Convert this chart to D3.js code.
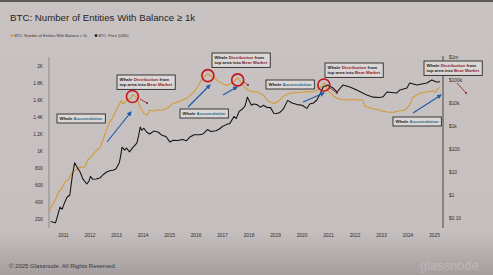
<!DOCTYPE html>
<html>
<head>
<meta charset="utf-8">
<script src="https://cdn.jsdelivr.net/npm/d3@7"></script>
<style>
  body { margin: 0; background: #c8c1c1; }
  svg { display: block; font-family: "Liberation Sans", Arial, sans-serif; }
</style>
</head>
<body>
<svg id="chart" width="493" height="275"></svg>
<script>
const entityDates = ['2010-06-20','2010-08-01','2010-09-15','2010-11-01','2010-12-15','2011-02-01','2011-03-15','2011-05-01','2011-06-01','2011-07-15','2011-08-20','2011-10-01','2011-11-01','2011-12-10','2012-01-15','2012-02-20','2012-04-01','2012-05-25','2012-07-01','2012-08-25','2012-10-01','2012-11-20','2013-01-01','2013-02-01','2013-03-10','2013-04-10','2013-05-01','2013-06-01','2013-07-25','2013-08-15','2013-09-10','2013-10-15','2013-11-25','2014-01-20','2014-03-01','2014-04-10','2014-06-01','2014-08-01','2014-10-01','2014-12-01','2015-02-25','2015-05-01','2015-07-10','2015-09-15','2015-11-25','2016-01-20','2016-03-01','2016-04-15','2016-05-10','2016-06-20','2016-07-15','2016-08-30','2016-10-15','2016-12-01','2017-01-15','2017-03-10','2017-04-20','2017-06-01','2017-07-10','2017-08-05','2017-09-01','2017-10-01','2017-11-15','2017-12-20','2018-03-01','2018-04-15','2018-06-05','2018-07-20','2018-09-15','2018-11-05','2018-12-15','2019-01-20','2019-03-10','2019-04-20','2019-06-10','2019-07-25','2019-10-01','2020-01-05','2020-03-15','2020-06-05','2020-08-01','2020-09-10','2020-10-15','2020-11-05','2020-12-01','2020-12-20','2021-01-30','2021-03-15','2021-05-05','2021-07-01','2021-09-20','2021-12-15','2022-02-20','2022-04-25','2022-05-20','2022-06-20','2022-08-20','2022-11-05','2023-01-20','2023-03-25','2023-06-15','2023-09-01','2023-11-10','2023-12-25','2024-02-10','2024-03-15','2024-05-10','2024-06-20','2024-08-25','2024-11-05','2024-12-10','2025-01-15','2025-02-10','2025-03-25'];
const entities = [290,360,420,520,560,640,660,740,760,790,812,808,815,900,925,960,1000,1040,1120,1260,1330,1400,1480,1520,1590,1550,1575,1600,1620,1665,1650,1620,1520,1440,1420,1480,1470,1485,1480,1500,1560,1575,1600,1630,1680,1740,1800,1860,1880,1910,1890,1870,1840,1810,1790,1770,1790,1810,1840,1860,1830,1790,1750,1720,1694,1700,1680,1660,1600,1570,1560,1570,1600,1640,1665,1680,1685,1690,1700,1695,1710,1740,1770,1800,1780,1720,1690,1650,1620,1605,1600,1605,1600,1600,1530,1520,1500,1490,1470,1460,1455,1470,1480,1500,1560,1630,1660,1680,1690,1700,1710,1690,1720,1750];

const priceDates = ['2010-07-15','2010-08-20','2010-09-20','2010-10-10','2010-11-20','2010-12-20','2011-01-15','2011-02-25','2011-04-05','2011-05-10','2011-06-10','2011-07-25','2011-08-25','2011-10-01','2011-11-25','2011-12-25','2012-01-15','2012-02-15','2012-04-01','2012-05-25','2012-07-15','2012-08-25','2012-10-15','2012-11-20','2012-12-30','2013-02-15','2013-03-10','2013-03-25','2013-04-30','2013-05-25','2013-07-05','2013-08-25','2013-10-15','2013-11-10','2013-11-30','2013-12-20','2014-01-20','2014-02-25','2014-04-10','2014-06-05','2014-08-01','2014-09-25','2014-11-20','2015-01-15','2015-02-25','2015-05-01','2015-07-05','2015-09-01','2015-10-15','2015-12-15','2016-02-25','2016-04-15','2016-06-15','2016-08-01','2016-10-10','2016-12-01','2017-01-05','2017-03-01','2017-04-20','2017-06-15','2017-07-15','2017-08-25','2017-10-10','2017-11-15','2017-12-17','2018-01-20','2018-02-10','2018-03-15','2018-04-25','2018-06-15','2018-07-25','2018-09-15','2018-11-01','2018-12-15','2019-01-25','2019-03-10','2019-04-25','2019-06-25','2019-08-25','2019-11-01','2020-01-10','2020-03-15','2020-04-25','2020-06-15','2020-08-01','2020-09-15','2020-10-25','2020-12-31','2021-03-10','2021-05-05','2021-07-25','2021-10-30','2022-02-01','2022-04-25','2022-06-20','2022-09-15','2022-12-15','2023-01-30','2023-03-25','2023-08-05','2023-09-20','2023-12-25','2024-02-01','2024-05-10','2024-09-25','2024-12-01','2025-02-05','2025-03-25'];
const prices = [0.07,0.065,0.063,0.1,0.3,0.24,0.4,0.8,1.0,7,25,14,10,5,3,4,6.5,4.8,5,5.5,8,10,11.5,12,13.5,25,60,120,90,110,75,120,180,400,900,650,800,550,450,600,550,400,350,200,240,235,260,230,330,420,420,450,700,580,620,760,950,1150,1300,2600,2100,4300,5500,7500,18000,11000,8000,9000,8600,6500,8000,6400,6300,3600,3500,3900,5400,13000,10000,8500,8000,5800,9000,10000,13500,25000,50000,60000,45000,30000,60000,50000,37000,27000,22000,18000,17500,18500,30000,27000,37000,45000,74000,60000,74000,100000,82000,84000];

const years = [2011,2012,2013,2014,2015,2016,2017,2018,2019,2020,2021,2022,2023,2024,2025];
const entityTicks = [200,400,600,800,1000,1200,1400,1600,1800,2000];
const priceTicks = [0.1,1,10,100,1000,10000,100000,1000000];
const priceTickLabels = ['$0.10','$1','$10','$100','$1k','$10k','$100k','$1m'];
const distributionDates = ['2013-08-15','2016-06-20','2017-08-05','2020-11-05'];

const parse = d3.timeParse('%Y-%m-%d');
const entitySeries = entityDates.map((d, i) => ({date: parse(d), v: entities[i]}));
const priceSeries = priceDates.map((d, i) => ({date: parse(d), v: prices[i]}));

const svg = d3.select('#chart');
const W = 493, H = 275;

// background
const defs = svg.append('defs');
const grad = defs.append('linearGradient').attr('id', 'bg').attr('x1', 0).attr('y1', 0).attr('x2', 0).attr('y2', 1);
grad.append('stop').attr('offset', '0%').attr('stop-color', '#c9c2c2');
grad.append('stop').attr('offset', '84%').attr('stop-color', '#c6bfbf');
grad.append('stop').attr('offset', '100%').attr('stop-color', '#a59e9e');
svg.append('rect').attr('width', W).attr('height', H).attr('fill', 'url(#bg)');
svg.append('rect').attr('width', W).attr('height', 2).attr('fill', '#5d5959');

const marker = defs.append('marker').attr('id', 'arrow')
  .attr('viewBox', '0 0 10 10').attr('refX', 8).attr('refY', 5)
  .attr('markerWidth', 4).attr('markerHeight', 4).attr('orient', 'auto');
marker.append('path').attr('d', 'M0,0L10,5L0,10z').attr('fill', '#1f5da6');

// title + legend
svg.append('text').attr('x', 10).attr('y', 21).attr('font-size', 9.7).attr('fill', '#262424')
  .text('BTC: Number of Entities With Balance \u2265 1k');
const legend = svg.append('g').attr('font-size', 3.8).attr('fill', '#333');
legend.append('circle').attr('cx', 12).attr('cy', 35.6).attr('r', 1.3).attr('fill', '#d39a2f');
legend.append('text').attr('x', 14.5).attr('y', 37).text('BTC: Number of Entities With Balance \u2265 1k');
legend.append('circle').attr('cx', 96).attr('cy', 35.6).attr('r', 1.3).attr('fill', '#111');
legend.append('text').attr('x', 98.5).attr('y', 37).text('BTC: Price (USD)');

// scales
const x = d3.scaleTime().domain([new Date(2011, 0, 1), new Date(2025, 0, 1)]).range([63, 434]);
const yLeft = d3.scaleLinear().domain([0, 2000]).range([236, 66]);
const yRight = d3.scaleLog().domain([0.1, 1e6]).range([218, 57]);

// axes
const xAxis = d3.axisBottom(x).tickValues(years.map(y => new Date(y, 0, 1)))
  .tickSize(0).tickPadding(2).tickFormat(d3.timeFormat('%Y'));
const leftAxis = d3.axisLeft(yLeft).tickValues(entityTicks).tickSize(0).tickPadding(6)
  .tickFormat(d => d >= 1000 ? (d / 1000) + 'K' : d);
const rightAxis = d3.axisRight(yRight).tickValues(priceTicks).tickSize(0).tickPadding(6)
  .tickFormat((d, i) => priceTickLabels[i]);

function styleAxis(g) {
  g.select('.domain').remove();
  g.selectAll('text').attr('font-size', 4.8).attr('fill', '#2f2c2c')
    .attr('font-family', '"Liberation Sans", Arial, sans-serif');
}
svg.append('g').attr('transform', 'translate(0,232)').call(xAxis).call(styleAxis);
svg.append('g').attr('transform', 'translate(49,0)').call(leftAxis).call(styleAxis);
svg.append('g').attr('transform', 'translate(443,0)').call(rightAxis).call(styleAxis);

svg.append('line').attr('x1', 49).attr('x2', 49).attr('y1', 57).attr('y2', 228)
  .attr('stroke', '#8f8a8a').attr('stroke-width', 1);
svg.append('line').attr('x1', 443).attr('x2', 443).attr('y1', 56).attr('y2', 228)
  .attr('stroke', '#4a4646').attr('stroke-width', 1);

// series
const entityLine = d3.line().x(d => x(d.date)).y(d => yLeft(d.v));
const priceLine = d3.line().x(d => x(d.date)).y(d => yRight(d.v));
svg.append('path').attr('d', entityLine(entitySeries)).attr('fill', 'none')
  .attr('stroke', '#d39a2f').attr('stroke-width', 1.05).attr('stroke-linejoin', 'round');
svg.append('path').attr('d', priceLine(priceSeries)).attr('fill', 'none')
  .attr('stroke', '#131212').attr('stroke-width', 1.05).attr('stroke-linejoin', 'round');

// annotations
const accColor = '#2b6f86', distColor = '#8c1d2e', ink = '#1c1b1b';
const accBoxes = [[57, 114], [180, 109], [266, 80], [393, 117]];
const distBoxes = [[117, 75], [212, 53], [325, 63], [424, 61]];
const arrows = [[107, 142, 131, 112], [188, 107, 210, 85], [223, 95, 237, 87], [303, 102, 324, 93], [413, 113, 441, 95]];
const connectors = [[140, 99, 147, 103], [244, 82, 248, 85], [330, 88, 337, 93], [457, 83, 466, 93]];

const ann = svg.append('g').attr('font-size', 4.4).attr('font-weight', 'bold');

arrows.forEach(a => {
  ann.append('line').attr('x1', a[0]).attr('y1', a[1]).attr('x2', a[2]).attr('y2', a[3])
    .attr('stroke', '#1f5da6').attr('stroke-width', 1.2).attr('marker-end', 'url(#arrow)');
});

distributionDates.forEach(d => {
  const e = entitySeries.find(p => p.date.getTime() === parse(d).getTime());
  ann.append('circle').attr('cx', x(e.date)).attr('cy', yLeft(e.v) + 2).attr('r', 6)
    .attr('fill', 'none').attr('stroke', '#c4141e').attr('stroke-width', 1.6);
});

connectors.forEach(c => {
  ann.append('line').attr('x1', c[0]).attr('y1', c[1]).attr('x2', c[2]).attr('y2', c[3])
    .attr('stroke', distColor).attr('stroke-width', 0.8);
  ann.append('circle').attr('cx', c[2]).attr('cy', c[3]).attr('r', 1).attr('fill', distColor);
});

function box(x0, y0, lines) {
  const g = ann.append('g');
  const r = g.append('rect').attr('x', x0).attr('y', y0).attr('fill', '#dcd7d7')
    .attr('stroke', '#2a2828').attr('stroke-width', 0.9);
  const t = g.append('text').attr('x', x0 + 2.5).attr('y', y0 + 6);
  lines.forEach((parts, li) => {
    parts.forEach((p, pi) => {
      const s = t.append('tspan').attr('fill', p[1]).text(p[0]);
      if (pi === 0) s.attr('x', x0 + 2.5).attr('dy', li === 0 ? 0 : 5.4);
    });
  });
  const bb = t.node().getBBox();
  r.attr('width', bb.width + 5).attr('height', 5.4 * lines.length + 3.6);
}

accBoxes.forEach(b => box(b[0], b[1], [[['Whale ', ink], ['Accumulation', accColor]]]));
distBoxes.forEach(b => box(b[0], b[1], [
  [['Whale ', ink], ['Distribution', distColor], [' from', ink]],
  [['top area into ', ink], ['Bear Market', distColor]]
]));

// footer
svg.append('text').attr('x', 9).attr('y', 267.5).attr('font-size', 6).attr('fill', '#3a3535')
  .text('\u00a9 2025 Glassnode. All Rights Reserved.');
svg.append('text').attr('x', 420).attr('y', 270).attr('font-size', 12.5).attr('fill', '#ffffff')
  .attr('fill-opacity', 0.22).attr('letter-spacing', 0.2).text('glassnode');
</script>
</body>
</html>
